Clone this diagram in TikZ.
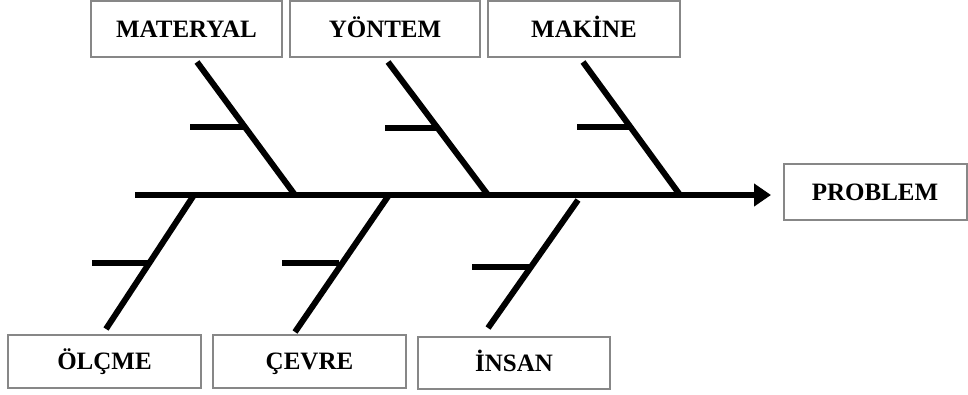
\documentclass[tikz,border=0pt]{standalone}
\usepackage{fontspec}
\setmainfont{Liberation Serif}
\usetikzlibrary{arrows.meta}
\begin{document}
\begin{tikzpicture}[x=1pt,y=-1pt,
  box/.style={draw=black!47,line width=2pt,fill=white,inner sep=0pt,
    text height=16.5pt,text depth=0pt,
    font=\fontsize{25}{29}\selectfont\bfseries,text=black},
  bone/.style={line width=6pt,black},
  twig/.style={line width=6pt,black}]
\useasboundingbox (0,0) rectangle (968,394);
% boxes
\node[box,minimum width=191pt,minimum height=56pt] (mat) at (186.5,29) {MATERYAL};
\node[box,minimum width=190pt,minimum height=56pt] (yon) at (385,29) {YÖNTEM};
\node[box,minimum width=192pt,minimum height=56pt] (mak) at (584,29) {MAKİNE};
\node[box,minimum width=183pt,minimum height=56pt] (prob) at (875,192) {PROBLEM};
\node[box,minimum width=193pt,minimum height=53pt] (olc) at (104.5,361.5) {ÖLÇME};
\node[box,minimum width=193pt,minimum height=53pt] (cev) at (309.5,361.5) {ÇEVRE};
\node[box,minimum width=192pt,minimum height=52pt] (ins) at (514,363) {İNSAN};
% spine
\coordinate (s0) at (135,195);
\coordinate (s1) at (771,195);
\draw[line width=6pt,-{Triangle[length=17pt,width=22pt]}] (s0) -- (s1);
% upper bones
\coordinate (m1) at (197,62); \coordinate (m2) at (295,195);
\coordinate (y1) at (388,62); \coordinate (y2) at (488,195);
\coordinate (k1) at (583,62); \coordinate (k2) at (680,195);
\draw[bone] (m1) -- (m2);
\draw[bone] (y1) -- (y2);
\draw[bone] (k1) -- (k2);
\draw[twig] (190,127) -- (243,127);
\draw[twig] (385,128) -- (436,128);
\draw[twig] (577,127) -- (629,127);
% lower bones
\coordinate (o1) at (194,195); \coordinate (o2) at (106,329);
\coordinate (c1) at (389,195); \coordinate (c2) at (295,332);
\coordinate (i1) at (578,200); \coordinate (i2) at (488,328);
\draw[bone] (o1) -- (o2);
\draw[bone] (c1) -- (c2);
\draw[bone] (i1) -- (i2);
\draw[twig] (92,263) -- (149,263);
\draw[twig] (282,263) -- (339,263);
\draw[twig] (472,267) -- (529,267);
\end{tikzpicture}
\end{document}
